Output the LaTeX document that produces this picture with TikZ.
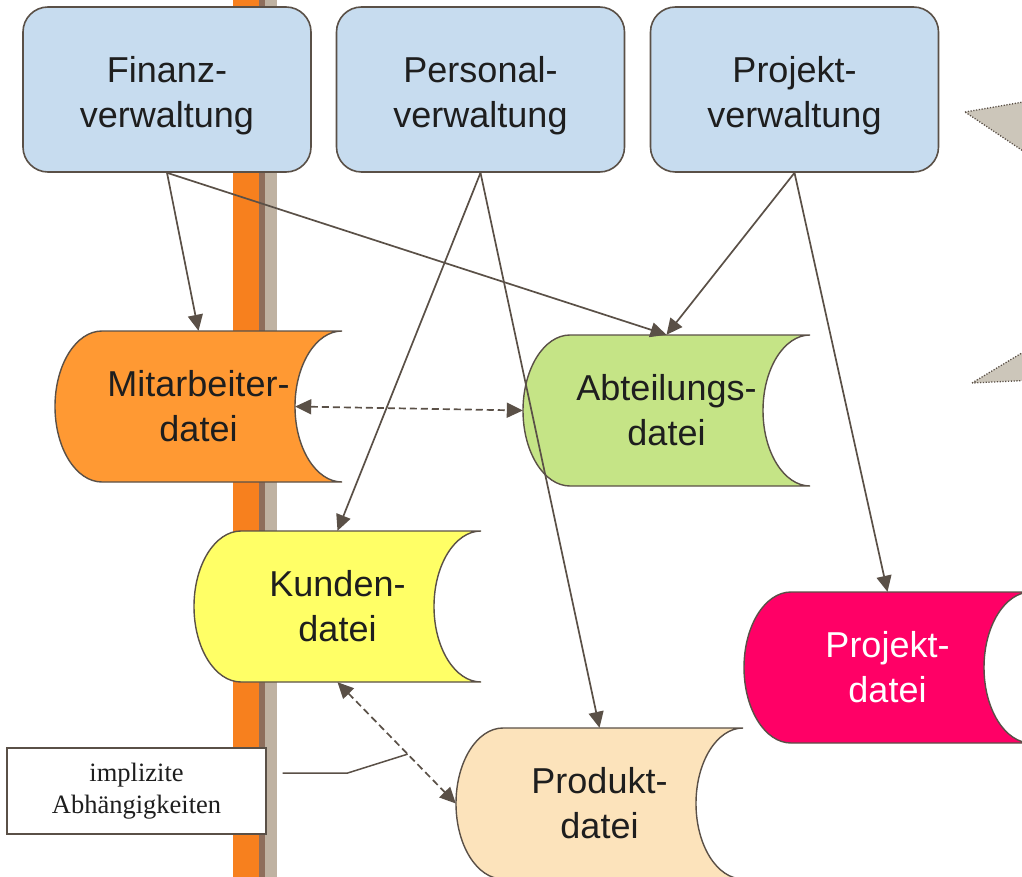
\documentclass[tikz,border=0pt]{standalone}
\usepackage{fontspec}
\setmainfont{Liberation Sans}
\newfontfamily\lblfont{Liberation Serif}
\usetikzlibrary{arrows.meta,calc}
\definecolor{ln}{RGB}{90,80,71}
\definecolor{boxblue}{RGB}{199,220,239}
\definecolor{barorange}{RGB}{247,128,30}
\definecolor{barbrown}{RGB}{142,110,92}
\definecolor{barbeige}{RGB}{191,178,162}
\definecolor{mitcol}{RGB}{255,153,51}
\definecolor{abtcol}{RGB}{197,228,134}
\definecolor{kuncol}{RGB}{255,255,102}
\definecolor{prjcol}{RGB}{255,0,102}
\definecolor{prdcol}{RGB}{252,227,187}
\definecolor{tricol}{RGB}{204,198,186}
\definecolor{txt}{RGB}{30,30,30}
\newcommand\dateishape[3]{%
  \draw[ln, line width=1.4pt, fill=#3] (#1+47,#2) -- (#1+287,#2)
    arc[start angle=270, end angle=90, x radius=47, y radius=75.5]
    -- (#1+47,#2+151)
    arc[start angle=90, end angle=270, x radius=47, y radius=75.5] -- cycle;}
\tikzset{
  topbox/.style={draw=ln, line width=1.6pt, fill=boxblue, rounded corners=25pt,
    minimum width=288pt, minimum height=165pt, inner sep=0pt, align=center,
    font=\fontsize{36}{45}\selectfont, text=txt, text height=82.5pt},
  dtext/.style={minimum width=287pt, minimum height=151pt, inner sep=0pt,
    align=center, font=\fontsize{36}{45}\selectfont, text=txt},
  conn/.style={ln, line width=1.7pt, -{Triangle[length=16pt,width=15pt]}},
  dconn/.style={ln, line width=1.7pt, dash pattern=on 7pt off 4pt,
    {Triangle[length=16pt,width=15pt]}-{Triangle[length=16pt,width=15pt]}},
  tri/.style={draw=ln, fill=tricol, line width=1.3pt, dash pattern=on 1.2pt off 1.6pt},
  lblbox/.style={draw=ln, line width=1.4pt, fill=white, minimum width=259pt,
    minimum height=86pt, inner sep=0pt, align=center,
    font=\lblfont\fontsize{26.5}{32}\selectfont, text=txt}
}
\begin{document}
\begin{tikzpicture}[x=1pt, y=-1pt]
\useasboundingbox (0,0) rectangle (1022,877);
% vertical bar
\fill[barorange] (233,-5) rectangle (259,882);
\fill[barbrown] (259,-5) rectangle (265,882);
\fill[barbeige] (265,-5) rectangle (277,882);
% gray triangles
\draw[tri] (965,112) -- (1035,100) -- (1035,159) -- cycle;
\draw[tri] (972,383) -- (1035,345) -- (1035,380) -- cycle;
% top boxes
\node[topbox] (fin) at (167,89.5) {Finanz-\\verwaltung};
\node[topbox] (per) at (480.5,89.5) {Personal-\\verwaltung};
\node[topbox] (pro) at (794.5,89.5) {Projekt-\\verwaltung};
% data files
\dateishape{55}{331}{mitcol}
\node[dtext] (mit) at (55+143.5,331+75.5) {Mitarbeiter-\\datei};
\dateishape{523}{335}{abtcol}
\node[dtext] (abt) at (523+143.5,335+75.5) {Abteilungs-\\datei};
\dateishape{194}{531}{kuncol}
\node[dtext] (kun) at (194+143.5,531+75.5) {Kunden-\\datei};
\dateishape{744}{592}{prjcol}
\node[dtext, text=white] (prj) at (744+143.5,592+75.5) {Projekt-\\datei};
\dateishape{456}{728}{prdcol}
\node[dtext] (prd) at (456+143.5,728+75.5) {Produkt-\\datei};
% label
\node[lblbox] (lbl) at (136.5,791) {implizite\\Abh\"angigkeiten};
% connectors
\draw[conn] (fin.south) -- (mit.north);
\draw[conn] (fin.south) -- (abt.north);
\draw[conn] (per.south) -- (kun.north);
\draw[conn] (per.south) -- (prd.north);
\draw[conn] (pro.south) -- (abt.north);
\draw[conn] (pro.south) -- (prj.north);
\draw[dconn] ($(mit.east)+(-47,0)$) -- (abt.west);
\draw[dconn] (kun.south) -- (prd.west);
\coordinate (lblstart) at ($(lbl.east)+(16,-18)$);
\coordinate (lblend) at ($(kun.south)!0.593!(prd.west)$);
\draw[ln, line width=1.5pt] (lblstart) -- ++(65,0) -- (lblend);
\end{tikzpicture}
\end{document}
